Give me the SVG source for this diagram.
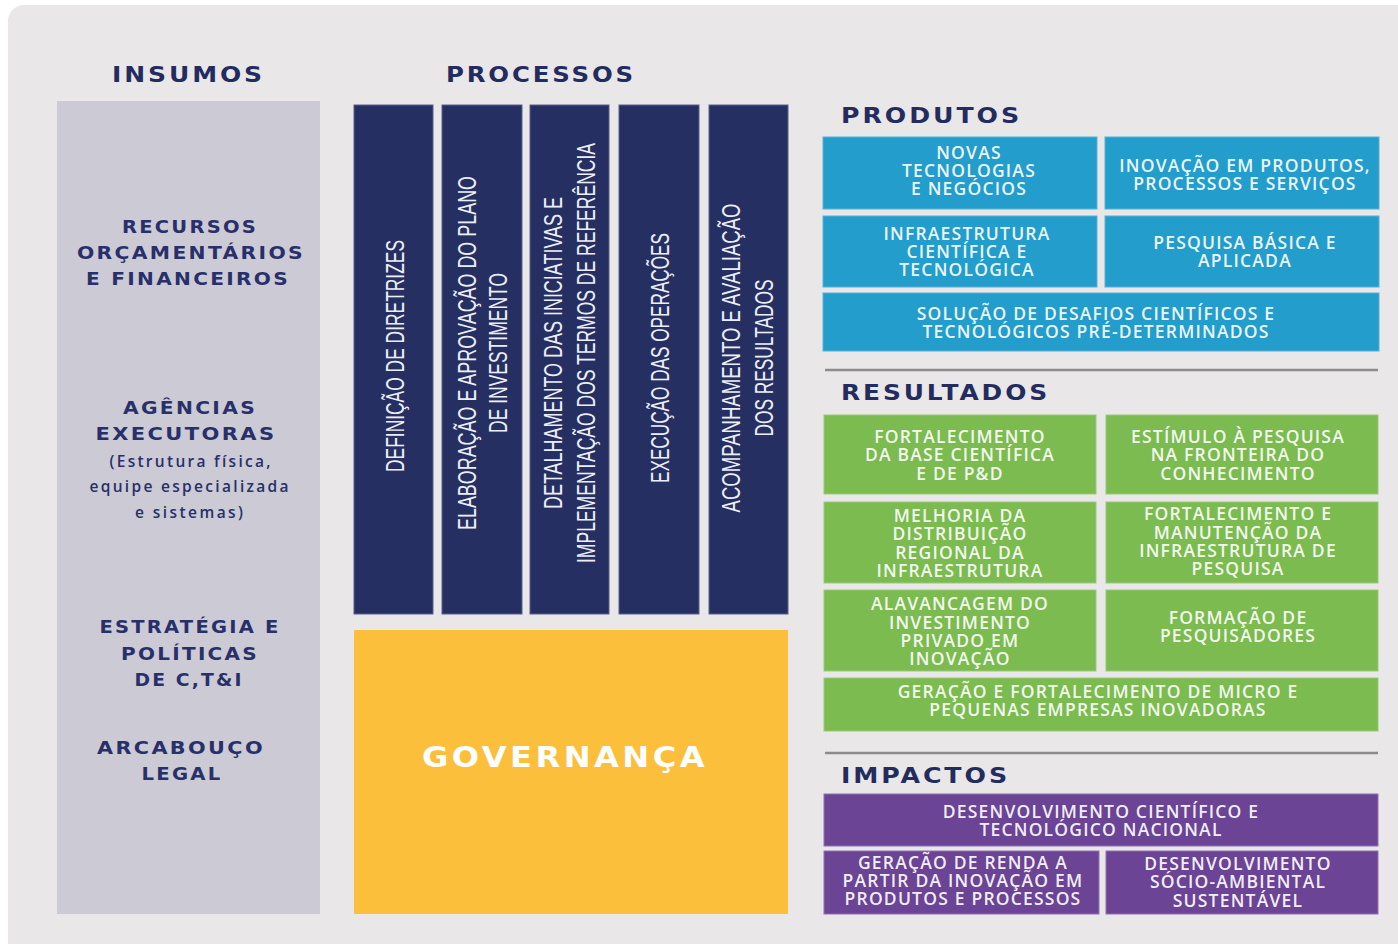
<svg xmlns="http://www.w3.org/2000/svg" width="1398" height="944" viewBox="0 0 1398 944">
<style>
.h{font-family:"DejaVu Sans","Open Sans",sans-serif;font-weight:700;font-size:21.5px;letter-spacing:2.5px;fill:#232c5f}
.lh{font-family:"DejaVu Sans","Open Sans",sans-serif;font-weight:700;font-size:17.5px;letter-spacing:2px;fill:#27306a;text-anchor:middle}
.ls{font-family:"Open Sans","Liberation Sans",sans-serif;font-weight:600;font-size:15.5px;fill:#27306a;text-anchor:middle}
.bt{font-family:"Open Sans","Liberation Sans",sans-serif;font-weight:600;font-size:17.5px;fill:#ffffff;fill-opacity:0.93;letter-spacing:1.2px;text-anchor:middle}
.vt{font-family:"Liberation Sans Narrow","Liberation Sans",sans-serif;font-size:26px;fill:#eceef5;text-anchor:middle}
.gov{font-family:"DejaVu Sans","Open Sans",sans-serif;font-weight:700;font-size:28px;letter-spacing:3px;fill:#ffffff;text-anchor:middle}
.navy{fill:#252f61;stroke:#5a6189;stroke-width:1}
.blue{fill:#239dcc;stroke:#56b3d8;stroke-width:1}
.green{fill:#7cbb50;stroke:#9acb78;stroke-width:1}
.purple{fill:#6b4495;stroke:#8f73b0;stroke-width:1}
.sep{stroke:#8c8c8c;stroke-width:2.5}
</style>
<rect x="0" y="0" width="1398" height="944" fill="#ffffff"/>
<rect x="8" y="5" width="1420" height="960" rx="16" fill="#e9e7e8"/>

<g id="headings">
<text class="h" x="112" y="82" textLength="153" lengthAdjust="spacingAndGlyphs">INSUMOS</text>
<text class="h" x="446" y="82" textLength="190" lengthAdjust="spacingAndGlyphs">PROCESSOS</text>
<text class="h" x="841" y="123" textLength="181" lengthAdjust="spacingAndGlyphs">PRODUTOS</text>
<text class="h" x="841" y="400" textLength="209" lengthAdjust="spacingAndGlyphs">RESULTADOS</text>
<text class="h" x="841" y="783" textLength="169" lengthAdjust="spacingAndGlyphs">IMPACTOS</text>
</g>

<g id="insumos">
<rect x="57" y="101" width="263" height="813" fill="#cccad4"/>
<text class="lh" x="190" y="233" textLength="136" lengthAdjust="spacingAndGlyphs">RECURSOS</text>
<text class="lh" x="191" y="259" textLength="228" lengthAdjust="spacingAndGlyphs">ORÇAMENTÁRIOS</text>
<text class="lh" x="188" y="285" textLength="204" lengthAdjust="spacingAndGlyphs">E FINANCEIROS</text>
<text class="lh" x="190" y="414" textLength="134" lengthAdjust="spacingAndGlyphs">AGÊNCIAS</text>
<text class="lh" x="186" y="440" textLength="181" lengthAdjust="spacingAndGlyphs">EXECUTORAS</text>
<text class="ls" x="190" y="467" textLength="161" lengthAdjust="spacing">(Estrutura física,</text>
<text class="ls" x="189" y="492" textLength="199" lengthAdjust="spacing">equipe especializada</text>
<text class="ls" x="189" y="518" textLength="108" lengthAdjust="spacing">e sistemas)</text>
<text class="lh" x="190" y="633" textLength="181" lengthAdjust="spacingAndGlyphs">ESTRATÉGIA E</text>
<text class="lh" x="190" y="660" textLength="138" lengthAdjust="spacingAndGlyphs">POLÍTICAS</text>
<text class="lh" x="189" y="686" textLength="109" lengthAdjust="spacingAndGlyphs">DE C,T&amp;I</text>
<text class="lh" x="181" y="754" textLength="168" lengthAdjust="spacingAndGlyphs">ARCABOUÇO</text>
<text class="lh" x="182" y="780" textLength="81" lengthAdjust="spacingAndGlyphs">LEGAL</text>
</g>

<g id="proc-diretrizes">
<rect class="navy" x="354" y="105" width="79" height="509"/>
<text class="vt" transform="translate(404,356) rotate(-90)" textLength="232" lengthAdjust="spacingAndGlyphs">DEFINIÇÃO DE DIRETRIZES</text>
</g>
<g id="proc-plano">
<rect class="navy" x="442" y="105" width="80" height="509"/>
<text class="vt" transform="translate(476,353) rotate(-90)" textLength="354" lengthAdjust="spacingAndGlyphs">ELABORAÇÃO E APROVAÇÃO DO PLANO</text>
<text class="vt" transform="translate(507,353) rotate(-90)" textLength="160" lengthAdjust="spacingAndGlyphs">DE INVESTIMENTO</text>
</g>
<g id="proc-detalhamento">
<rect class="navy" x="530" y="105" width="79" height="509"/>
<text class="vt" transform="translate(562,353) rotate(-90)" textLength="312" lengthAdjust="spacingAndGlyphs">DETALHAMENTO DAS INICIATIVAS E</text>
<text class="vt" transform="translate(595,353) rotate(-90)" textLength="420" lengthAdjust="spacingAndGlyphs">IMPLEMENTAÇÃO DOS TERMOS DE REFERÊNCIA</text>
</g>
<g id="proc-execucao">
<rect class="navy" x="619" y="105" width="80" height="509"/>
<text class="vt" transform="translate(669,358) rotate(-90)" textLength="250" lengthAdjust="spacingAndGlyphs">EXECUÇÃO DAS OPERAÇÕES</text>
</g>
<g id="proc-acompanhamento">
<rect class="navy" x="709" y="105" width="79" height="509"/>
<text class="vt" transform="translate(740,358) rotate(-90)" textLength="309" lengthAdjust="spacingAndGlyphs">ACOMPANHAMENTO E AVALIAÇÃO</text>
<text class="vt" transform="translate(773,358) rotate(-90)" textLength="157" lengthAdjust="spacingAndGlyphs">DOS RESULTADOS</text>
</g>

<g id="governanca">
<rect x="354" y="630" width="434" height="284" fill="#fbbf3c"/>
<text class="gov" x="565" y="767" textLength="286" lengthAdjust="spacingAndGlyphs">GOVERNANÇA</text>
</g>

<g id="produtos">
<g id="p1"><rect class="blue" x="823" y="137" width="274" height="72"/>
<text class="bt" x="969" y="159">NOVAS</text><text class="bt" x="969" y="177">TECNOLOGIAS</text><text class="bt" x="969" y="195">E NEGÓCIOS</text></g>
<g id="p2"><rect class="blue" x="1105" y="137" width="274" height="72"/>
<text class="bt" x="1245" y="172">INOVAÇÃO EM PRODUTOS,</text><text class="bt" x="1245" y="190">PROCESSOS E SERVIÇOS</text></g>
<g id="p3"><rect class="blue" x="823" y="216" width="274" height="71"/>
<text class="bt" x="967" y="240">INFRAESTRUTURA</text><text class="bt" x="967" y="258">CIENTÍFICA E</text><text class="bt" x="967" y="276">TECNOLÓGICA</text></g>
<g id="p4"><rect class="blue" x="1105" y="216" width="274" height="71"/>
<text class="bt" x="1245" y="249">PESQUISA BÁSICA E</text><text class="bt" x="1245" y="267">APLICADA</text></g>
<g id="p5"><rect class="blue" x="823" y="293" width="556" height="58"/>
<text class="bt" x="1096" y="320">SOLUÇÃO DE DESAFIOS CIENTÍFICOS E</text><text class="bt" x="1096" y="338">TECNOLÓGICOS PRÉ-DETERMINADOS</text></g>
</g>

<line class="sep" x1="825" y1="370" x2="1378" y2="370"/>

<g id="resultados">
<g id="r1"><rect class="green" x="824" y="415" width="272" height="79"/>
<text class="bt" x="960" y="443">FORTALECIMENTO</text><text class="bt" x="960" y="461">DA BASE CIENTÍFICA</text><text class="bt" x="960" y="480">E DE P&amp;D</text></g>
<g id="r2"><rect class="green" x="1106" y="415" width="272" height="79"/>
<text class="bt" x="1238" y="443">ESTÍMULO À PESQUISA</text><text class="bt" x="1238" y="461">NA FRONTEIRA DO</text><text class="bt" x="1238" y="480">CONHECIMENTO</text></g>
<g id="r3"><rect class="green" x="824" y="502" width="272" height="81"/>
<text class="bt" x="960" y="522">MELHORIA DA</text><text class="bt" x="960" y="540">DISTRIBUIÇÃO</text><text class="bt" x="960" y="559">REGIONAL DA</text><text class="bt" x="960" y="577">INFRAESTRUTURA</text></g>
<g id="r4"><rect class="green" x="1106" y="502" width="272" height="81"/>
<text class="bt" x="1238" y="520">FORTALECIMENTO E</text><text class="bt" x="1238" y="539">MANUTENÇÃO DA</text><text class="bt" x="1238" y="557">INFRAESTRUTURA DE</text><text class="bt" x="1238" y="575">PESQUISA</text></g>
<g id="r5"><rect class="green" x="824" y="590" width="272" height="81"/>
<text class="bt" x="960" y="610">ALAVANCAGEM DO</text><text class="bt" x="960" y="629">INVESTIMENTO</text><text class="bt" x="960" y="647">PRIVADO EM</text><text class="bt" x="960" y="665">INOVAÇÃO</text></g>
<g id="r6"><rect class="green" x="1106" y="590" width="272" height="81"/>
<text class="bt" x="1238" y="624">FORMAÇÃO DE</text><text class="bt" x="1238" y="642">PESQUISADORES</text></g>
<g id="r7"><rect class="green" x="824" y="678" width="554" height="53"/>
<text class="bt" x="1098" y="698">GERAÇÃO E FORTALECIMENTO DE MICRO E</text><text class="bt" x="1098" y="716">PEQUENAS EMPRESAS INOVADORAS</text></g>
</g>

<line class="sep" x1="825" y1="753" x2="1378" y2="753"/>

<g id="impactos">
<g id="i1"><rect class="purple" x="824" y="794" width="554" height="52"/>
<text class="bt" x="1101" y="818">DESENVOLVIMENTO CIENTÍFICO E</text><text class="bt" x="1101" y="836">TECNOLÓGICO NACIONAL</text></g>
<g id="i2"><rect class="purple" x="824" y="851" width="275" height="63"/>
<text class="bt" x="963" y="869">GERAÇÃO DE RENDA A</text><text class="bt" x="963" y="887">PARTIR DA INOVAÇÃO EM</text><text class="bt" x="963" y="905">PRODUTOS E PROCESSOS</text></g>
<g id="i3"><rect class="purple" x="1106" y="851" width="272" height="63"/>
<text class="bt" x="1238" y="870">DESENVOLVIMENTO</text><text class="bt" x="1238" y="888">SÓCIO-AMBIENTAL</text><text class="bt" x="1238" y="907">SUSTENTÁVEL</text></g>
</g>

<g id="connectors"/>
</svg>
